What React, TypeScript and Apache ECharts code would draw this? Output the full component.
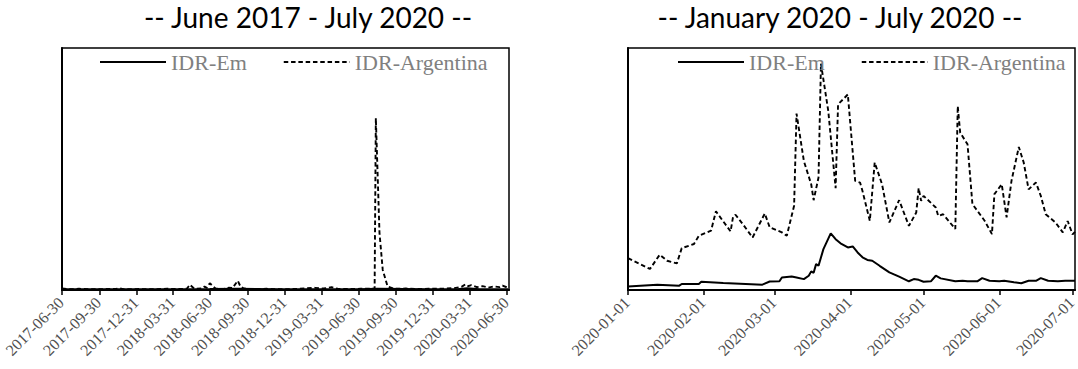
import React, { useEffect, useRef } from "react";
import * as echarts from "echarts";

// ---- tick labels ----
const leftTicks = [
  "2017-06-30", "2017-09-30", "2017-12-31", "2018-03-31", "2018-06-30", "2018-09-30",
  "2018-12-31", "2019-03-31", "2019-06-30", "2019-09-30", "2019-12-31", "2020-03-31", "2020-06-30",
];
const rightTicks = ["2020-01-01", "2020-02-01", "2020-03-01", "2020-04-01", "2020-05-01", "2020-06-01", "2020-07-01"];

const seriesNames = ["IDR-Em", "IDR-Argentina"];
const titles = ["-- June 2017 - July 2020 --", "-- January 2020 - July 2020 --"];

// ---- left panel (June 2017 - July 2020) ----
const leftEm: [string, number][] = [
  ["2017-06-30", 0.3], ["2017-12-29", 0.3], ["2018-06-29", 0.4], ["2018-09-07", 0.5], ["2018-12-28", 0.3],
  ["2019-06-28", 0.3], ["2019-08-16", 0.5], ["2019-12-27", 0.3], ["2020-02-28", 0.3], ["2020-03-24", 0.7],
  ["2020-04-24", 0.3], ["2020-07-03", 0.3],
];
const leftArg: [string, number][] = [
  ["2017-06-30", 0.6], ["2017-07-21", 0.3], ["2017-08-11", 0.5], ["2017-09-15", 0.3], ["2017-10-20", 0.4],
  ["2017-11-10", 0.4], ["2017-11-18", 0.8], ["2017-11-28", 0.3], ["2018-01-05", 0.4], ["2018-02-09", 0.3],
  ["2018-03-16", 0.5], ["2018-04-20", 0.4], ["2018-05-04", 0.6], ["2018-05-11", 2.2], ["2018-05-22", 0.5],
  ["2018-06-08", 0.6], ["2018-06-16", 1.4], ["2018-06-22", 0.9], ["2018-06-29", 2.8], ["2018-07-06", 1.7],
  ["2018-07-13", 0.6], ["2018-08-03", 0.4], ["2018-08-14", 0.9], ["2018-08-24", 0.8], ["2018-09-06", 3.8],
  ["2018-09-13", 1.3], ["2018-09-21", 0.6], ["2018-10-12", 0.4], ["2018-11-16", 0.5], ["2018-12-21", 0.3],
  ["2019-01-25", 0.4], ["2019-02-22", 0.7], ["2019-03-15", 0.9], ["2019-04-05", 0.6], ["2019-04-25", 1.2],
  ["2019-05-10", 0.5], ["2019-06-07", 0.4], ["2019-07-05", 0.5], ["2019-08-09", 0.6], ["2019-08-12", 71],
  ["2019-08-21", 23.6], ["2019-08-29", 8.3], ["2019-09-10", 1.4], ["2019-09-27", 0.5], ["2019-10-25", 0.6],
  ["2019-11-22", 0.4], ["2019-12-20", 0.5], ["2020-01-24", 0.5], ["2020-02-21", 0.8], ["2020-03-10", 1.3],
  ["2020-03-20", 2.4], ["2020-03-27", 1.6], ["2020-04-03", 2.0], ["2020-04-17", 1.2], ["2020-05-01", 1.6],
  ["2020-05-15", 1.0], ["2020-05-29", 1.5], ["2020-06-12", 1.2], ["2020-06-19", 1.8], ["2020-07-03", 0.9],
];

// ---- right panel (January 2020 - July 2020) ----
const rightEm: [string, number][] = [
  ["2020-01-01", 1.4], ["2020-01-13", 2.2], ["2020-01-22", 1.8], ["2020-01-23", 2.5], ["2020-01-30", 2.5],
  ["2020-01-31", 3.4], ["2020-02-09", 2.9], ["2020-02-25", 2.2], ["2020-02-28", 3.5], ["2020-03-03", 3.6],
  ["2020-03-04", 5.2], ["2020-03-08", 5.6], ["2020-03-10", 5.2], ["2020-03-13", 4.5], ["2020-03-15", 5.9],
  ["2020-03-16", 7.7], ["2020-03-17", 7.1], ["2020-03-18", 10.7], ["2020-03-19", 10.0], ["2020-03-21", 16.9],
  ["2020-03-24", 23.4], ["2020-03-26", 21.0], ["2020-03-28", 19.3], ["2020-03-31", 17.6], ["2020-04-02", 18.0],
  ["2020-04-04", 15.5], ["2020-04-06", 13.5], ["2020-04-08", 12.4], ["2020-04-10", 12.1], ["2020-04-13", 10.0],
  ["2020-04-17", 7.3], ["2020-04-21", 5.5], ["2020-04-25", 3.6], ["2020-04-27", 4.5], ["2020-04-29", 4.2],
  ["2020-05-01", 3.4], ["2020-05-04", 3.6], ["2020-05-06", 5.9], ["2020-05-08", 4.8], ["2020-05-14", 3.6],
  ["2020-05-17", 3.8], ["2020-05-19", 3.6], ["2020-05-23", 3.6], ["2020-05-25", 4.9], ["2020-05-28", 3.8],
  ["2020-06-01", 3.6], ["2020-06-03", 3.8], ["2020-06-07", 3.2], ["2020-06-10", 2.8], ["2020-06-13", 3.8],
  ["2020-06-16", 3.8], ["2020-06-18", 4.9], ["2020-06-21", 3.8], ["2020-06-25", 3.6], ["2020-06-28", 3.8],
  ["2020-07-02", 3.8],
];
const rightArg: [string, number][] = [
  ["2020-01-01", 13.2], ["2020-01-10", 8.7], ["2020-01-14", 14.6], ["2020-01-17", 12.1], ["2020-01-21", 11.0],
  ["2020-01-23", 17.3], ["2020-01-28", 19.0], ["2020-01-30", 22.4], ["2020-02-04", 24.5], ["2020-02-06", 32.5],
  ["2020-02-12", 24.2], ["2020-02-13", 30.2], ["2020-02-14", 31.1], ["2020-02-17", 27.2], ["2020-02-21", 21.7],
  ["2020-02-26", 31.6], ["2020-02-28", 25.9], ["2020-03-04", 23.8], ["2020-03-06", 22.4], ["2020-03-09", 34.8],
  ["2020-03-10", 72.9], ["2020-03-13", 53.3], ["2020-03-16", 43.7], ["2020-03-17", 37.1], ["2020-03-19", 46.5],
  ["2020-03-20", 93.5], ["2020-03-23", 73.9], ["2020-03-26", 42.1], ["2020-03-27", 76.7], ["2020-03-31", 80.8],
  ["2020-04-03", 45.1], ["2020-04-05", 44.4], ["2020-04-06", 40.9], ["2020-04-09", 28.6], ["2020-04-11", 52.7],
  ["2020-04-14", 43.7], ["2020-04-17", 27.9], ["2020-04-21", 37.1], ["2020-04-25", 26.5], ["2020-04-28", 32.0],
  ["2020-04-29", 42.1], ["2020-04-30", 36.8], ["2020-05-01", 38.9], ["2020-05-06", 34.1], ["2020-05-07", 30.6],
  ["2020-05-09", 31.3], ["2020-05-14", 25.2], ["2020-05-15", 76.0], ["2020-05-16", 65.0], ["2020-05-19", 60.2],
  ["2020-05-21", 35.5], ["2020-05-26", 28.6], ["2020-05-29", 23.1], ["2020-05-30", 39.6], ["2020-06-02", 43.7],
  ["2020-06-04", 30.0], ["2020-06-06", 45.1], ["2020-06-09", 59.1], ["2020-06-11", 52.7], ["2020-06-13", 41.6],
  ["2020-06-16", 44.4], ["2020-06-18", 38.9], ["2020-06-20", 31.3], ["2020-06-24", 27.9], ["2020-06-27", 23.8],
  ["2020-06-29", 28.5], ["2020-07-01", 23.0], ["2020-07-02", 24.0],
];

const toTs = (s: string) => {
  const [y, m, d] = s.split("-").map(Number);
  return Date.UTC(y, m - 1, d);
};
const conv = (arr: [string, number][]) => arr.map(([d, v]) => [toTs(d), v]);

const serif = "Liberation Serif";

export default function App() {
  const ref = useRef<HTMLDivElement>(null);
  useEffect(() => {
    if (!ref.current) return;
    const chart = echarts.init(ref.current, undefined, { renderer: "svg" });

    const mkX = (gridIndex: number, min: string, max: string, ticks: string[]) => ({
      type: "value",
      gridIndex,
      min: toTs(min),
      max: toTs(max),
      axisLine: { show: true, onZero: false, lineStyle: { color: "#000", width: 2.2 } },
      axisTick: {
        show: true,
        customValues: ticks.map(toTs),
        length: 5,
        inside: false,
        lineStyle: { color: "#000", width: 1.5 },
      },
      axisLabel: { show: false },
      splitLine: { show: false },
    });
    const mkY = (gridIndex: number) => ({
      type: "value",
      gridIndex,
      min: 0,
      max: 100,
      axisLine: { show: true, lineStyle: { color: "#000", width: 2 } },
      axisTick: { show: false },
      axisLabel: { show: false },
      splitLine: { show: false },
    });
    const lineEm = { color: "#000", width: 2, type: "solid" };
    const lineArg = { color: "#000", width: 1.9, type: [4.5, 2.8] };
    const mkSeries = (name: string, idx: number, data: [string, number][], style: any) => ({
      name,
      type: "line",
      xAxisIndex: idx,
      yAxisIndex: idx,
      data: conv(data),
      symbol: "none",
      showSymbol: false,
      lineStyle: style,
      itemStyle: { color: "#000" },
      emphasis: { disabled: true },
      z: name === seriesNames[1] ? 3 : 4,
    });
    const legendText = { fontFamily: serif, fontSize: 22, color: "#808080" };
    const titleText = { fontFamily: "Lato", fontSize: 28, fontWeight: "normal", color: "#000" };
    const legendBase = {
      top: 46,
      itemWidth: 66,
      itemHeight: 3,
      itemGap: 36,
      itemStyle: { opacity: 0 },
      textStyle: legendText,
      data: seriesNames,
      selectedMode: false,
    };

    chart.setOption({
      animation: false,
      backgroundColor: "#fff",
      textStyle: { fontFamily: serif },
      title: [
        { text: titles[0], left: 303, top: -2, textAlign: "center", textStyle: titleText },
        { text: titles[1], left: 835, top: -2, textAlign: "center", textStyle: titleText },
      ],
      legend: [
        { ...legendBase, left: 94 },
        { ...legendBase, left: 672 },
      ],
      grid: [
        { left: 62, top: 48, width: 447, height: 242, show: true, borderColor: "#000", borderWidth: 1.5, containLabel: false },
        { left: 628, top: 48, width: 447, height: 242, show: true, borderColor: "#000", borderWidth: 1.5, containLabel: false },
      ],
      xAxis: [mkX(0, "2017-06-30", "2020-07-05", leftTicks), mkX(1, "2020-01-01", "2020-07-02", rightTicks)],
      yAxis: [mkY(0), mkY(1)],
      series: [
        mkSeries(seriesNames[0], 0, leftEm, lineEm),
        mkSeries(seriesNames[1], 0, leftArg, lineArg),
        mkSeries(seriesNames[0], 1, rightEm, lineEm),
        mkSeries(seriesNames[1], 1, rightArg, lineArg),
      ],
    });

    // rotated tick labels, positioned through the axes' own scales
    const labels: any[] = [];
    [leftTicks, rightTicks].forEach((ticks, gi) => {
      ticks.forEach((t) => {
        const p = chart.convertToPixel({ gridIndex: gi }, [toTs(t), 0]) as number[];
        labels.push({
          type: "text",
          x: p[0] - 1,
          y: p[1] + 10,
          rotation: Math.PI / 4,
          silent: true,
          style: {
            text: t,
            fontFamily: serif,
            fontSize: 16,
            fill: "#505050",
            align: "right",
            verticalAlign: "middle",
            textAlign: "right",
            textVerticalAlign: "middle",
          },
        });
      });
    });
    chart.setOption({ graphic: labels });

    return () => chart.dispose();
  }, []);
  return <div ref={ref} style={{ position: "fixed", left: 0, top: 0, width: 1078, height: 369 }} />;
}
